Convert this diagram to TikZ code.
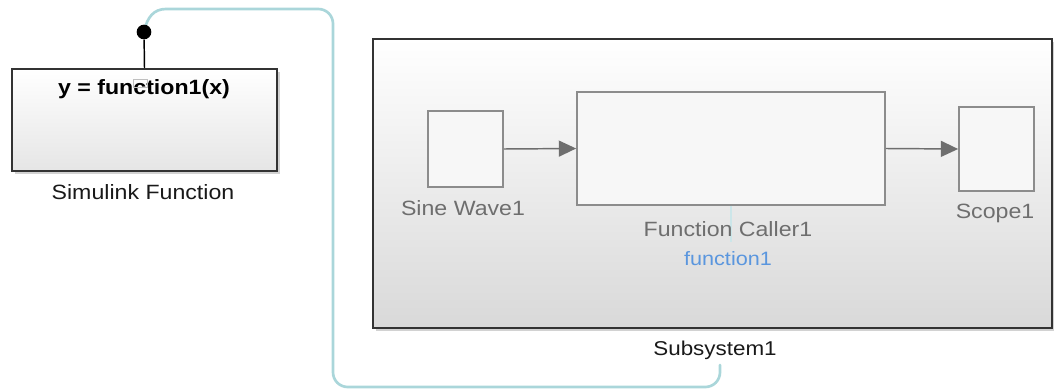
\documentclass[tikz,border=0pt]{standalone}
\usepackage{fontspec}
\setmainfont{Liberation Sans}[FakeStretch=1.12]
\usepackage{tikz}
\usetikzlibrary{arrows.meta, shadows}

\definecolor{wirecol}{RGB}{170,214,218}
\definecolor{labelgray}{RGB}{110,110,110}
\definecolor{boxgray}{RGB}{140,140,140}
\definecolor{fnblue}{RGB}{90,150,222}

\begin{document}
\begin{tikzpicture}[
    x=0.75pt, y=-0.75pt,
    >={Triangle[length=13pt, width=12pt]},
    block/.style={rectangle, draw=boxgray, line width=1.3pt, fill=white!97!black, inner sep=0pt},
    outer/.style={rectangle, draw=black!80, line width=1.6pt, inner sep=0pt,
        top color=white, bottom color=black!15,
        drop shadow={shadow xshift=2pt, shadow yshift=-2pt, fill=black!35, opacity=0.5}},
    label/.style={font=\fontsize{15.5}{18}\selectfont, text=labelgray, inner sep=0pt},
    caption/.style={font=\fontsize{15.5}{18}\selectfont, text=black!90, inner sep=0pt},
    signal/.style={->, draw=labelgray, line width=1.1pt},
    wire/.style={draw=wirecol, line width=2pt, line cap=round}
]
\useasboundingbox (0,0) rectangle (1054,389);

% Function call line (drawn first, the dot sits on top)
\coordinate (wstart) at (144,32);
\coordinate (wtop) at (166,9);
\coordinate (wcorner) at (333,387);
\coordinate (wend) at (720,365);
\draw[wire] (wstart) .. controls (147,17) and (154,9) .. (wtop)
    [rounded corners=11pt] -- (wtop -| wcorner) -- (wcorner) -- (wcorner -| wend) -- (wend);

% Simulink Function block
\node[outer, bottom color=black!10, minimum width=198.75pt, minimum height=76.5pt] (simfun) at (144.5,120) {};
\node[font=\fontsize{15.5}{18}\selectfont\bfseries, inner sep=0pt] (sftitle) at (144,89) {y = function1(x)};
\draw[black!25, line width=0.5pt] (133,79) rectangle (147,87);
\node[caption] (sfname) at (143,192) {Simulink Function};
\node[circle, fill=black, minimum size=11pt, inner sep=0pt] (trig) at (wstart) {};
\draw[black, line width=1.1pt] (simfun.north) -- (trig);

% Subsystem
\node[outer, minimum width=509.25pt, minimum height=216.75pt] (sub) at (712.5,183.5) {};
\node[caption, font=\fontsize{15}{18}\selectfont] (subname) at (715,350) {Subsystem1};

% Blocks inside the subsystem
\node[block, minimum width=56.25pt, minimum height=57pt] (sine) at (465.5,149) {};
\node[block, minimum width=231pt, minimum height=84.75pt] (caller) at (731,148.5) {};
\node[block, minimum width=56.25pt, minimum height=63pt] (scope) at (996.5,149) {};
\coordinate (tap) at (731,242);
\draw[draw=wirecol!60, line width=1.3pt] (caller.south) -- (tap);

% Block labels
\node[label] (sinename) at (463,208) {Sine Wave1};
\node[label] (callername) at (728,229) {Function Caller1};
\node[label, text=fnblue, font=\fontsize{14.5}{17}\selectfont] (callerfn) at (728,259) {function1};
\node[label] (scopename) at (995,213) {Scope1};

% Signals
\draw[signal] (sine.east) -- (caller.west);
\draw[signal] (caller.east) -- (scope.west);

\end{tikzpicture}
\end{document}
